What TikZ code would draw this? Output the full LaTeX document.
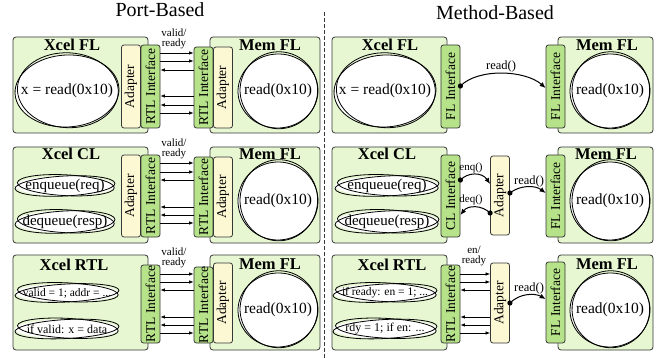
\documentclass[tikz,border=0pt]{standalone}
\usepackage{fontspec}
\usepackage{graphicx}
\setmainfont{Liberation Serif}
\usetikzlibrary{arrows.meta}
\definecolor{boxg}{RGB}{231,247,210}
\definecolor{ifg}{RGB}{182,226,138}
\definecolor{adp}{RGB}{252,248,212}
\definecolor{edge}{RGB}{55,55,55}
\newcommand\fsz[1]{\fontsize{#1}{#1}\selectfont}
\newcommand\skb[7]{%
  \fill[white,shift={(#2,#3)}] (0,0) ellipse [x radius=#4pt, y radius=#5pt];
  \draw[skl,shift={(#2,#3)},rotate=3] (0,0) ellipse [x radius=#4pt, y radius=#5pt];
  \draw[skl,shift={(#2,#3)},rotate=-3] (0.8,-0.8) ellipse [x radius={#4*0.97pt}, y radius={#5*1.04pt}];
  \node[font=\fsz{#6}, inner sep=0pt] (#1) at (#2,#3) {#7};
}
\begin{document}
\begin{tikzpicture}[x=1pt,y=-1pt,
  cbox/.style={draw=edge, fill=boxg, rounded corners=3pt, line width=0.8pt},
  ifc/.style={draw=edge, fill=ifg, rounded corners=2.5pt, line width=0.8pt, minimum width=19pt, inner sep=0pt, font=\fsz{13.5}},
  adpt/.style={ifc, fill=adp},
  ttl/.style={font=\fsz{16.5}\bfseries, anchor=base, inner sep=0pt},
  head/.style={font=\fsz{20}, anchor=base, inner sep=0pt},
  skl/.style={line width=0.8pt, black},
  sig/.style={-{Latex[length=4.5pt,width=3.5pt]}, line width=0.7pt},
  lbl/.style={font=\fontsize{11}{10}\selectfont, align=center, inner sep=0pt},
  mlbl/.style={font=\fsz{12.5}, inner sep=0pt},
  marr/.style={-{Latex[length=6pt,width=5pt]}, line width=1pt},
  dot/.style={fill=black}
]
\fill[white] (0,0) rectangle (658,358);
\useasboundingbox (0,0) rectangle (658,358);

% headings and divider
\node[head] (hp) at (160,17) {Port-Based};
\node[head] (hm) at (495,20) {Method-Based};
\draw[dashed, dash pattern=on 4pt off 2pt, line width=0.8pt, edge] (324,12) -- (324,358);

% ===== boxes =====
\node[cbox, minimum width=135pt, minimum height=96pt] (Lx1) at (80.5,85) {};
\node[cbox, minimum width=110pt, minimum height=96pt] (Lm1) at (265,85) {};
\node[cbox, minimum width=135pt, minimum height=96pt] (Lx2) at (80.5,195) {};
\node[cbox, minimum width=110pt, minimum height=96pt] (Lm2) at (265,195) {};
\node[cbox, minimum width=135pt, minimum height=95pt] (Lx3) at (80.5,302.5) {};
\node[cbox, minimum width=110pt, minimum height=95pt] (Lm3) at (265,302.5) {};
\node[cbox, minimum width=115pt, minimum height=96pt] (Rx1) at (389.5,85) {};
\node[cbox, minimum width=95pt, minimum height=96pt] (Rm1) at (605.5,85) {};
\node[cbox, minimum width=115pt, minimum height=96pt] (Rx2) at (389.5,195) {};
\node[cbox, minimum width=95pt, minimum height=96pt] (Rm2) at (605.5,195) {};
\node[cbox, minimum width=115pt, minimum height=95pt] (Rx3) at (389.5,302.5) {};
\node[cbox, minimum width=95pt, minimum height=95pt] (Rm3) at (605.5,302.5) {};

% titles
\node[ttl] (tLx1) at (72,51) {Xcel FL};
\node[ttl] (tLm1) at (270,51) {Mem FL};
\node[ttl] (tLx2) at (71,160) {Xcel CL};
\node[ttl] (tLm2) at (270,160) {Mem FL};
\node[ttl] (tLx3) at (74,270) {Xcel RTL};
\node[ttl] (tLm3) at (270,269) {Mem FL};
\node[ttl] (tRx1) at (390,51) {Xcel FL};
\node[ttl] (tRm1) at (607,51) {Mem FL};
\node[ttl] (tRx2) at (387,160) {Xcel CL};
\node[ttl] (tRm2) at (606,160) {Mem FL};
\node[ttl] (tRx3) at (392,270) {Xcel RTL};
\node[ttl] (tRm3) at (607,269) {Mem FL};

% ===== sketchy blobs =====
\skb{bL1}{67}{91}{52}{36}{15.5}{x = read(0x10)}
\skb{bLm1}{278}{91}{40}{37}{15.5}{read(0x10)}
\skb{bL2a}{65}{186}{50}{10}{15}{enqueue(req)}
\skb{bL2b}{65}{222}{50}{11}{15}{dequeue(resp)}
\skb{bLm2}{278}{201}{40}{39}{15.5}{read(0x10)}
\skb{bL3a}{67}{293}{52}{9}{11.5}{valid = 1; addr = ...}
\skb{bL3b}{67}{329}{52}{9.5}{12}{if valid: x = data}
\skb{bLm3}{278}{310}{40}{37}{15.5}{read(0x10)}
\skb{bR1}{385}{91}{51}{36}{15.5}{x = read(0x10)}
\skb{bRm1}{610}{91}{40}{37}{15.5}{read(0x10)}
\skb{bR2a}{387}{186}{52}{10}{15}{enqueue(req)}
\skb{bR2b}{387}{222}{52}{11}{15}{dequeue(resp)}
\skb{bRm2}{610}{201}{40}{39}{15.5}{read(0x10)}
\skb{bR3a}{385}{293}{52}{9}{11.5}{if ready: en = 1; ...}
\skb{bR3b}{385}{329}{52}{9.5}{12}{rdy = 1; if en: ...}
\skb{bRm3}{610}{310}{40}{37}{15.5}{read(0x10)}

% ===== interfaces =====
\node[adpt, minimum height=83pt] (La1) at (131,86.5) {\rotatebox{90}{Adapter}};
\node[ifc, minimum height=83pt] (Lxr1) at (150.5,86.5) {\rotatebox{90}{RTL Interface}};
\node[ifc, minimum height=81pt] (Lmr1) at (203.5,87.5) {\rotatebox{90}{RTL Interface}};
\node[adpt, minimum height=81pt] (Lma1) at (223,87.5) {\rotatebox{90}{Adapter}};

\node[adpt, minimum height=82pt] (La2) at (131,196) {\rotatebox{90}{Adapter}};
\node[ifc, minimum height=82pt] (Lxr2) at (150.5,196) {\rotatebox{90}{RTL Interface}};
\node[ifc, minimum height=80pt] (Lmr2) at (203.5,197) {\rotatebox{90}{RTL Interface}};
\node[adpt, minimum height=80pt] (Lma2) at (223,197) {\rotatebox{90}{Adapter}};

\node[ifc, minimum height=78pt] (Lxr3) at (150.5,304) {\rotatebox{90}{RTL Interface}};
\node[ifc, minimum height=76pt] (Lmr3) at (203.5,305) {\rotatebox{90}{RTL Interface}};
\node[adpt, minimum height=80pt] (Lma3) at (223,303) {\rotatebox{90}{Adapter}};

\node[ifc, minimum height=83pt] (Rxf1) at (450.5,86.5) {\rotatebox{90}{FL Interface}};
\node[ifc, minimum height=83pt] (Rmf1) at (555.5,86.5) {\rotatebox{90}{FL Interface}};

\node[ifc, minimum height=82pt] (Rxc2) at (450.5,196) {\rotatebox{90}{CL Interface}};
\node[adpt, minimum height=79pt] (Ra2) at (500,195.5) {\rotatebox{90}{Adapter}};
\node[ifc, minimum height=82pt] (Rmf2) at (555.5,196) {\rotatebox{90}{FL Interface}};

\node[ifc, minimum height=78pt] (Rxr3) at (450.5,304) {\rotatebox{90}{RTL Interface}};
\node[adpt, minimum height=80pt] (Ra3) at (500,303) {\rotatebox{90}{Adapter}};
\node[ifc, minimum height=81pt] (Rmf3) at (555.5,302.5) {\rotatebox{90}{FL Interface}};

% ===== port-based signals =====
\draw[sig] (Lxr1.east |- 0,53) -- (Lmr1.west |- 0,53);
\draw[sig] (Lxr1.east |- 0,61) -- (Lmr1.west |- 0,61);
\draw[sig] (Lmr1.west |- 0,70) -- (Lxr1.east |- 0,70);
\draw[sig] (Lmr1.west |- 0,96) -- (Lxr1.east |- 0,96);
\draw[sig] (Lmr1.west |- 0,105) -- (Lxr1.east |- 0,105);
\draw[sig] (Lxr1.east |- 0,113) -- (Lmr1.west |- 0,113);
\node[lbl] (v1) at (174,39) {valid/\\ready};

\draw[sig] (Lxr2.east |- 0,163) -- (Lmr2.west |- 0,163);
\draw[sig] (Lxr2.east |- 0,172) -- (Lmr2.west |- 0,172);
\draw[sig] (Lmr2.west |- 0,180) -- (Lxr2.east |- 0,180);
\draw[sig] (Lmr2.west |- 0,207) -- (Lxr2.east |- 0,207);
\draw[sig] (Lmr2.west |- 0,215) -- (Lxr2.east |- 0,215);
\draw[sig] (Lxr2.east |- 0,223) -- (Lmr2.west |- 0,223);
\node[lbl] (v2) at (174,149) {valid/\\ready};

\draw[sig] (Lxr3.east |- 0,274) -- (Lmr3.west |- 0,274);
\draw[sig] (Lxr3.east |- 0,282) -- (Lmr3.west |- 0,282);
\draw[sig] (Lmr3.west |- 0,290) -- (Lxr3.east |- 0,290);
\draw[sig] (Lmr3.west |- 0,317) -- (Lxr3.east |- 0,317);
\draw[sig] (Lmr3.west |- 0,325) -- (Lxr3.east |- 0,325);
\draw[sig] (Lxr3.east |- 0,333) -- (Lmr3.west |- 0,333);
\node[lbl] (v3) at (174,258) {valid/\\ready};

\draw[sig] (Rxr3.east |- 0,274) -- (Ra3.west |- 0,274);
\draw[sig] (Rxr3.east |- 0,282) -- (Ra3.west |- 0,282);
\draw[sig] (Ra3.west |- 0,290) -- (Rxr3.east |- 0,290);
\draw[sig] (Ra3.west |- 0,317) -- (Rxr3.east |- 0,317);
\draw[sig] (Ra3.west |- 0,325) -- (Rxr3.east |- 0,325);
\draw[sig] (Rxr3.east |- 0,333) -- (Ra3.west |- 0,333);
\node[lbl] (v4) at (474,256) {en/\\ready};

% ===== method-based calls =====
\draw[marr] (Rxf1.east |- 0,86) .. controls (478,68) and (525,70) .. (Rmf1.west |- 0,88);
\fill[dot] (Rxf1.east |- 0,86) circle[radius=2.6pt];
\node[mlbl] (m1) at (501,66) {read()};

\draw[marr] (Rxc2.east |- 0,180) .. controls (468,172) and (482,172) .. (Ra2.west |- 0,184);
\fill[dot] (Rxc2.east |- 0,180) circle[radius=2.6pt];
\node[mlbl, font=\fsz{11}] (m2) at (471,168) {enq()};
\draw[marr] (Ra2.west |- 0,213) .. controls (482,205) and (468,205) .. (Rxc2.east |- 0,215);
\fill[dot] (Ra2.west |- 0,213) circle[radius=2.6pt];
\node[mlbl, font=\fsz{11}] (m3) at (471,200) {deq()};
\draw[marr] (Ra2.east |- 0,193) .. controls (520,185) and (535,185) .. (Rmf2.west |- 0,193);
\fill[dot] (Ra2.east |- 0,193) circle[radius=2.6pt];
\node[mlbl] (m4) at (529,181) {read()};

\draw[marr] (Ra3.east |- 0,303) .. controls (520,293) and (535,293) .. (Rmf3.west |- 0,299);
\fill[dot] (Ra3.east |- 0,303) circle[radius=2.6pt];
\node[mlbl] (m5) at (529,288) {read()};
\end{tikzpicture}
\end{document}
